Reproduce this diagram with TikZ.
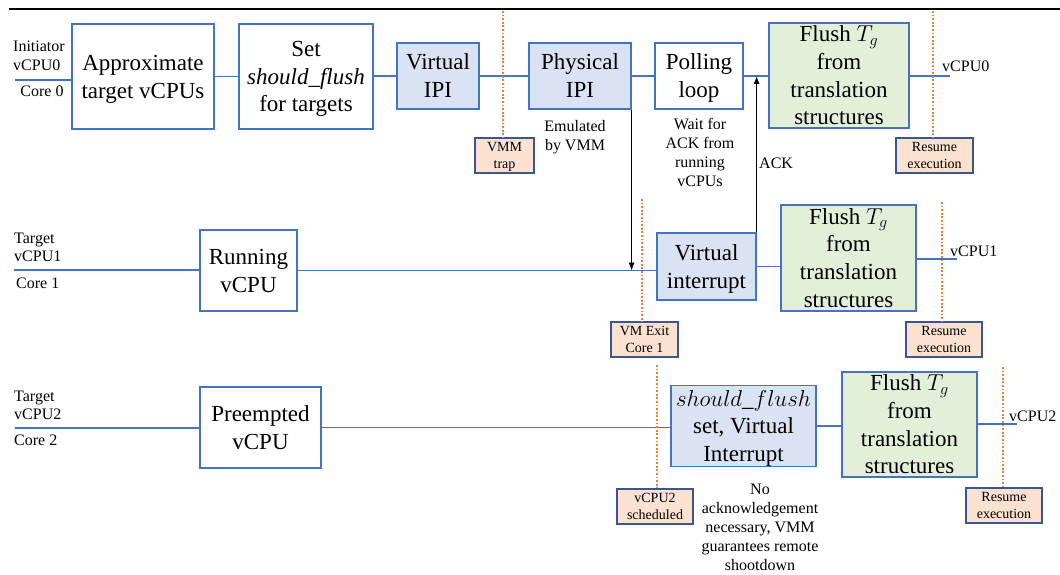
\RequirePackage{fix-cm}
\documentclass[tikz,border=0pt]{standalone}
\usepackage{fontspec}
\setmainfont{Liberation Serif}
\usetikzlibrary{arrows.meta}

\definecolor{edgeblue}{HTML}{4472C4}
\definecolor{ipifill}{HTML}{DAE3F3}
\definecolor{flushfill}{HTML}{E2F0D9}
\definecolor{tagfill}{HTML}{FBE1D0}
\definecolor{tagborder}{HTML}{3A5590}
\definecolor{guideorange}{HTML}{ED7D31}

% strut with the font's full ascent and descent, so that box text sits
% centred on its line boxes rather than on its inked glyphs
\newcommand\fs{\rule[-0.216em]{0pt}{1.107em}}

\begin{document}
\begin{tikzpicture}[x=1pt,y=-1pt,
  box/.style={draw=edgeblue, line width=1.2pt, fill=white, inner sep=0pt,
    align=center, font=\fontsize{23}{27.6}\selectfont},
  ipibox/.style={box, fill=ipifill},
  flushbox/.style={box, fill=flushfill, inner ysep=-10pt},
  tag/.style={draw=tagborder, line width=1.1pt, fill=tagfill, inner sep=0pt,
    align=center, minimum height=35pt, font=\fontsize{14}{16.5}\selectfont},
  note/.style={align=center, inner sep=0pt, font=\fontsize{16}{19}\selectfont},
  lanelabel/.style={align=left, inner sep=0pt, font=\fontsize{16}{18.5}\selectfont},
  lane/.style={draw=edgeblue, line width=1.1pt},
  guide/.style={draw=guideorange, line width=1.1pt, dash pattern=on 1.8pt off 1.8pt},
  signal/.style={draw=black, line width=0.9pt, -{Latex[length=8pt,width=6pt]}}
]
\useasboundingbox (0,0) rectangle (1060,575);

% header rule
\draw[line width=2pt] (9,9.5) -- (1060,9.5);

% ---------- initiator lane (vCPU0) ----------
\node[box, minimum width=142pt, minimum height=105pt] (approx) at (143,76.5)
  {\fs Approximate\\target vCPUs\fs};
\node[box, minimum width=134pt, minimum height=105pt] (setflag) at (306,76.5)
  {\fs Set\\\textit{should\_flush}\\for targets\fs};
\node[ipibox, minimum width=82pt, minimum height=66pt] (vipi) at (438,76)
  {\fs Virtual\\IPI\fs};
\node[ipibox, minimum width=102pt, minimum height=66pt] (pipi) at (580,76)
  {\fs Physical\\IPI\fs};
\node[box, minimum width=88pt, minimum height=66pt] (poll) at (699,76)
  {\fs Polling\\loop\fs};
\node[flushbox, minimum width=140pt, minimum height=105pt] (flush0) at (839,75.5)
  {\fs Flush $T_g$\\from\\translation\\structures\fs};

\node[lanelabel, anchor=west] (lab0) at (13,56) {Initiator\\vCPU0};
\node[lanelabel] (core0) at (42,91) {Core 0};
\coordinate (in0) at (15,80);
\coordinate (out0) at (950,76);
\node[lanelabel, anchor=west] (end0) at (942,66) {vCPU0};

\draw[lane] (in0) -- (in0 -| approx.west);
\draw[lane] (approx.east) -- (setflag.west);
\draw[lane] (setflag.east |- vipi.west) -- (vipi.west);
\draw[lane] (vipi.east) -- (pipi.west);
\draw[lane] (pipi.east) -- (poll.west);
\draw[lane] (poll.east) -- (poll.east -| flush0.west);
\draw[lane] (flush0.east |- out0) -- (out0);

\node[note] (emu) at (575,137) {Emulated\\by VMM};
\node[note] (wait) at (700,152.5) {Wait for\\ACK from\\running\\vCPUs};

\node[tag, minimum width=59pt] (trap) at (504.5,155.5) {\fs VMM\\trap\fs};
\node[tag, minimum width=77pt] (resume0) at (934.5,155.5) {\fs Resume\\execution\fs};
\coordinate (g0) at (503,11);
\coordinate (g1) at (933,11);
\draw[guide] (g0) -- (g0 |- trap.north);
\draw[guide] (g1) -- (g1 |- resume0.north);

% ---------- running target lane (vCPU1) ----------
\node[box, minimum width=97pt, minimum height=81pt] (running) at (248.5,270.5)
  {\fs Running\\vCPU\fs};
\node[ipibox, minimum width=99pt, minimum height=67pt] (vint) at (706.5,266.5)
  {\fs Virtual\\interrupt\fs};
\node[flushbox, minimum width=135pt, minimum height=106pt] (flush1) at (848.5,258)
  {\fs Flush $T_g$\\from\\translation\\structures\fs};

\node[lanelabel, anchor=west] (lab1) at (14,247.5) {Target\\vCPU1};
\node[lanelabel, anchor=west] (core1) at (16,283) {Core 1};
\coordinate (in1) at (14,270);
\coordinate (out1) at (957,259);
\node[lanelabel, anchor=west] (end1) at (950,251) {vCPU1};

\draw[lane] (in1) -- (in1 -| running.west);
\draw[lane] (running.east) -- (running.east -| vint.west);
\draw[lane] (vint.east) -- (vint.east -| flush1.west);
\draw[lane] (flush1.east |- out1) -- (out1);

\node[tag, minimum width=67pt] (vmexit) at (644.5,339.5) {\fs VM Exit\\Core 1\fs};
\node[tag, minimum width=76pt] (resume1) at (944,339.5) {\fs Resume\\execution\fs};
\coordinate (g2) at (642,199);
\coordinate (g3) at (942,202);
\draw[guide] (g2) -- (g2 |- vmexit.north);
\draw[guide] (g3) -- (g3 |- resume1.north);

% IPI delivery and acknowledgement
\draw[signal] (pipi.south east) -- (pipi.south east |- running.east);
\draw[signal] (vint.north east) -- (vint.north east |- poll.east);
\node[lanelabel, anchor=west] (ack) at (759,163) {ACK};

% ---------- preempted target lane (vCPU2) ----------
\node[box, minimum width=121pt, minimum height=81pt] (preempt) at (260.5,427.5)
  {\fs Preempted\\vCPU\fs};
\node[ipibox, minimum width=145pt, minimum height=78pt] (sflag) at (743.5,426)
  {\fs $should\_flush$\\set, Virtual\\Interrupt\fs};
\node[flushbox, minimum width=135pt, minimum height=105pt] (flush2) at (909.5,424.5)
  {\fs Flush $T_g$\\from\\translation\\structures\fs};

\node[lanelabel, anchor=west] (lab2) at (14,405.5) {Target\\vCPU2};
\node[lanelabel, anchor=west] (core2) at (14,440) {Core 2};
\coordinate (in2) at (15,428);
\coordinate (out2) at (1017,424);
\node[lanelabel, anchor=west] (end2) at (1009,416) {vCPU2};

\draw[lane] (in2) -- (in2 -| preempt.west);
\draw[lane] (preempt.east) -- (preempt.east -| sflag.west);
\draw[lane] (sflag.east) -- (sflag.east -| flush2.west);
\draw[lane] (flush2.east |- out2) -- (out2);

\node[note] (noack) at (760,527)
  {No\\acknowledgement\\necessary, VMM\\guarantees remote\\shootdown};

\node[tag, minimum width=76pt] (sched) at (655,506.5) {\fs vCPU2\\scheduled\fs};
\node[tag, minimum width=76pt] (resume2) at (1004,505.5) {\fs Resume\\execution\fs};
\coordinate (g4) at (657,365);
\coordinate (g5) at (1003,367);
\draw[guide] (g4) -- (g4 |- sched.north);
\draw[guide] (g5) -- (g5 |- resume2.north);
\end{tikzpicture}
\end{document}
